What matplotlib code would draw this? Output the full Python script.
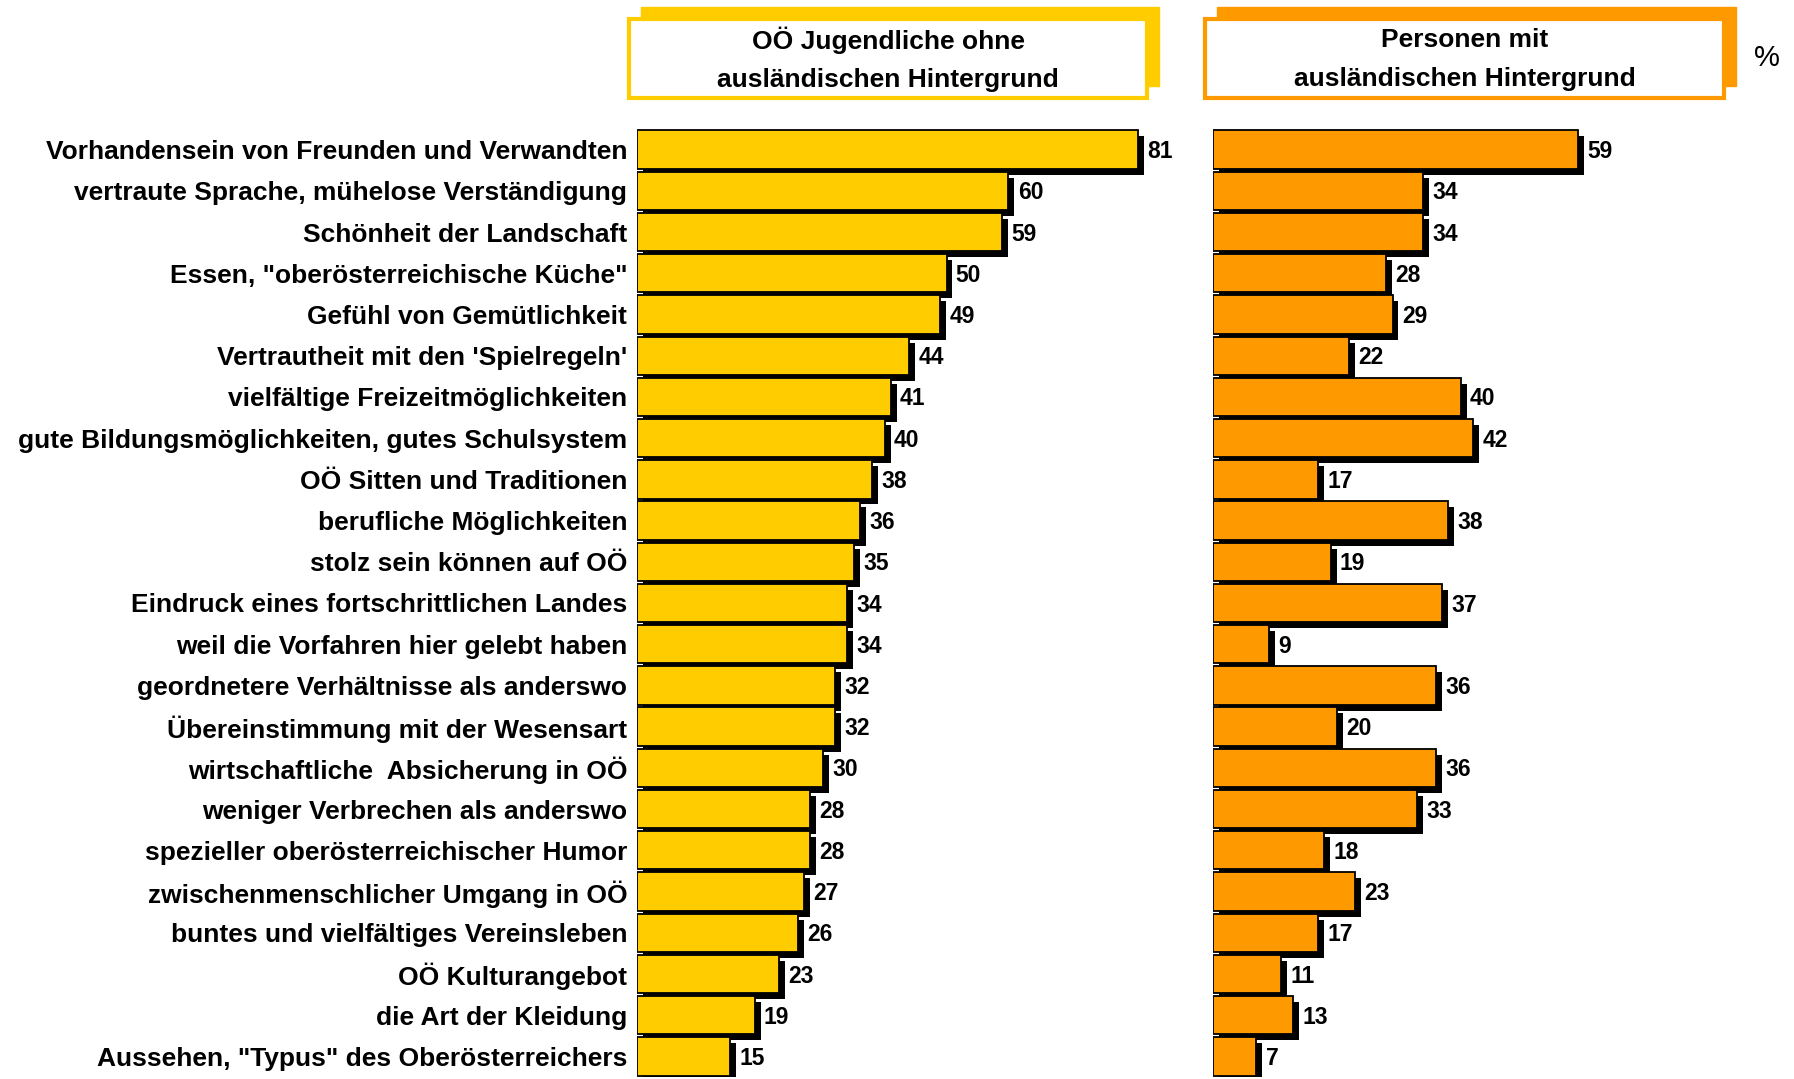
#!/usr/bin/env python3
import matplotlib
matplotlib.use("Agg")
import matplotlib.pyplot as plt
import matplotlib.patheffects as pe
from matplotlib.patches import Rectangle
import numpy as np

categories = [
    "Vorhandensein von Freunden und Verwandten",
    "vertraute Sprache, mühelose Verständigung",
    "Schönheit der Landschaft",
    "Essen, \"oberösterreichische Küche\"",
    "Gefühl von Gemütlichkeit",
    "Vertrautheit mit den 'Spielregeln'",
    "vielfältige Freizeitmöglichkeiten",
    "gute Bildungsmöglichkeiten, gutes Schulsystem",
    "OÖ Sitten und Traditionen",
    "berufliche Möglichkeiten",
    "stolz sein können auf OÖ",
    "Eindruck eines fortschrittlichen Landes",
    "weil die Vorfahren hier gelebt haben",
    "geordnetere Verhältnisse als anderswo",
    "Übereinstimmung mit der Wesensart",
    "wirtschaftliche  Absicherung in OÖ",
    "weniger Verbrechen als anderswo",
    "spezieller oberösterreichischer Humor",
    "zwischenmenschlicher Umgang in OÖ",
    "buntes und vielfältiges Vereinsleben",
    "OÖ Kulturangebot",
    "die Art der Kleidung",
    "Aussehen, \"Typus\" des Oberösterreichers",
]
jugendliche = [81, 60, 59, 50, 49, 44, 41, 40, 38, 36, 35, 34, 34, 32, 32, 30, 28, 28, 27, 26, 23, 19, 15]
migranten = [59, 34, 34, 28, 29, 22, 40, 42, 17, 38, 19, 37, 9, 36, 20, 36, 33, 18, 23, 17, 11, 13, 7]

titles = ["OÖ Jugendliche ohne\nausländischen Hintergrund",
          "Personen mit\nausländischen Hintergrund"]
colors = ["#FFCC00", "#FF9900"]

plt.rcParams["font.family"] = ["Liberation Sans", "DejaVu Sans"]

W, H = 1794, 1079
fig = plt.figure(figsize=(W / 100, H / 100), dpi=100)

shadow = [pe.SimplePatchShadow(offset=(4.3, -4.3), shadow_rgbFace="black", alpha=1.0), pe.Normal()]
y = np.arange(len(categories))
XMAX = 85

panels = [(637, jugendliche), (1213, migranten)]
for i, (left_px, vals) in enumerate(panels):
    ax = fig.add_axes([left_px / W, 2 / H, XMAX * 6.19 / W, (1077 - 129) / H])
    bars = ax.barh(y, vals, height=0.93, color=colors[i], edgecolor="black", linewidth=1.3)
    for b in bars:
        b.set_path_effects(shadow)
    for yy, v in zip(y, vals):
        ax.text(v + 1.5, yy + 0.05, str(v), ha="left", va="center", fontsize=16.5, fontweight="bold")
    ax.set_xlim(0, XMAX)
    ax.set_ylim(len(categories) - 0.5, -0.5)
    ax.set_xticks([])
    for s in ax.spines.values():
        s.set_visible(False)
    if i == 0:
        ax.set_yticks(y)
        ax.set_yticklabels(categories, fontsize=19, fontweight="bold")
        ax.tick_params(axis="y", length=0, pad=7)
    else:
        ax.set_yticks([])

# header boxes with offset shadow frame
boxes = [(629, 1147), (1205, 1724)]
for (x0, x1), title, c in zip(boxes, titles, colors):
    top, bot = 19, 98
    fig.patches.append(Rectangle(((x0 + 12) / W, 1 - (bot - 12) / H), (x1 - x0) / W, (bot - top) / H,
                                 transform=fig.transFigure, facecolor=c, edgecolor=c, zorder=1))
    fig.patches.append(Rectangle((x0 / W, 1 - bot / H), (x1 - x0) / W, (bot - top) / H,
                                 transform=fig.transFigure, facecolor="white", edgecolor=c,
                                 linewidth=3, zorder=2))
    fig.text((x0 + x1) / 2 / W, 1 - (top + bot + 2) / 2 / H, title, ha="center", va="center",
             fontsize=19, fontweight="bold", linespacing=1.75, zorder=3)

fig.text(1767 / W, 1 - 58 / H, "%", ha="center", va="center", fontsize=21)

fig.savefig("out.png", dpi=100)
